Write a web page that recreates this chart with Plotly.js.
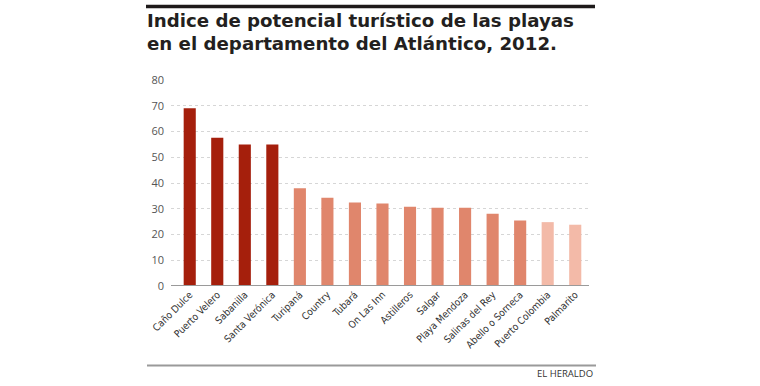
<!DOCTYPE html>
<html>
<head>
<meta charset="utf-8">
<script src="https://cdn.plot.ly/plotly-3.0.1.min.js"></script>
<style>html,body{margin:0;padding:0;background:#fff;}#chart{width:760px;height:386px;}</style>
</head>
<body>
<div id="chart"></div>
<script>
const categories = ["Caño Dulce","Puerto Velero","Sabanilla","Santa Verónica","Turipaná","Country","Tubará","On Las Inn","Astilleros","Salgar","Playa Mendoza","Salinas del Rey","Abello o Sorneca","Puerto Colombia","Palmarito"];
const values = [69, 57.6, 55, 55, 38, 34.3, 32.4, 32, 30.8, 30.4, 30.4, 28.1, 25.4, 24.8, 23.8];
const groups = ["alto","alto","alto","alto","medio","medio","medio","medio","medio","medio","medio","medio","medio","bajo","bajo"];
const yTicks = [0,10,20,30,40,50,60,70,80];
const titleLines = ["Indice de potencial turístico de las playas","en el departamento del Atlántico, 2012."];
const source = "EL HERALDO";

const groupColors = {alto:"#a51f0c", medio:"#e0866c", bajo:"#f3baa8"};
const W = 760, H = 386, L = 171, R = 171, T = 80, B = 100;
const pw = W - L - R, ph = H - T - B;
const px = x => (x - L) / pw;
const py = y => (H - B - y) / ph;

const trace = {
  type: "bar",
  x: categories.map((c, i) => i),
  y: values,
  marker: {color: groups.map(g => groupColors[g]), line: {width: 0}},
  width: 0.44,
  hoverinfo: "x+y"
};

const layout = {
  width: W, height: H,
  margin: {l: L, r: R, t: T, b: B, pad: 0},
  paper_bgcolor: "#fff", plot_bgcolor: "#fff",
  showlegend: false,
  font: {family: "Open Sans, sans-serif", color: "#555"},
  xaxis: {
    range: [-0.68, 14.5],
    tickmode: "array",
    tickvals: categories.map((c, i) => i),
    ticktext: categories,
    tickangle: -45,
    tickfont: {family: "DejaVu Sans Condensed, Liberation Sans Narrow, sans-serif", size: 10, color: "#333"},
    showgrid: false, zeroline: false, showline: false, ticks: ""
  },
  yaxis: {
    range: [0, 80],
    tickmode: "array",
    tickvals: yTicks,
    tickfont: {family: "Open Sans, sans-serif", size: 11, color: "#555"},
    showgrid: true, gridcolor: "#d6d6d6", griddash: "dot", gridwidth: 1,
    zeroline: false, showline: false, ticks: "", ticklabelstandoff: 6
  },
  shapes: [
    {type: "line", xref: "paper", yref: "paper", x0: px(146), x1: px(595), y0: py(6.5), y1: py(6.5), line: {color: "#1e1a1a", width: 3.5}},
    {type: "line", xref: "paper", yref: "y", x0: 0, x1: 1, y0: 0, y1: 0, line: {color: "#9a9a9a", width: 2}},
    {type: "line", xref: "paper", yref: "paper", x0: px(147), x1: px(596), y0: py(365.5), y1: py(365.5), line: {color: "#9a9a9a", width: 2}}
  ],
  annotations: [
    {text: "<b>" + titleLines[0] + "</b>", xref: "paper", yref: "paper", x: px(145), y: py(21), xanchor: "left", yanchor: "middle", showarrow: false, font: {family: "DejaVu Sans, sans-serif", size: 18.2, color: "#231f20"}},
    {text: "<b>" + titleLines[1] + "</b>", xref: "paper", yref: "paper", x: px(145), y: py(43), xanchor: "left", yanchor: "middle", showarrow: false, font: {family: "DejaVu Sans, sans-serif", size: 18.2, color: "#231f20"}},
    {text: source, xref: "paper", yref: "paper", x: px(595), y: py(373), xanchor: "right", yanchor: "middle", showarrow: false, font: {family: "Open Sans, sans-serif", size: 9.5, color: "#333"}}
  ]
};

Plotly.newPlot("chart", [trace], layout, {displayModeBar: false, staticPlot: true});
</script>
</body>
</html>
